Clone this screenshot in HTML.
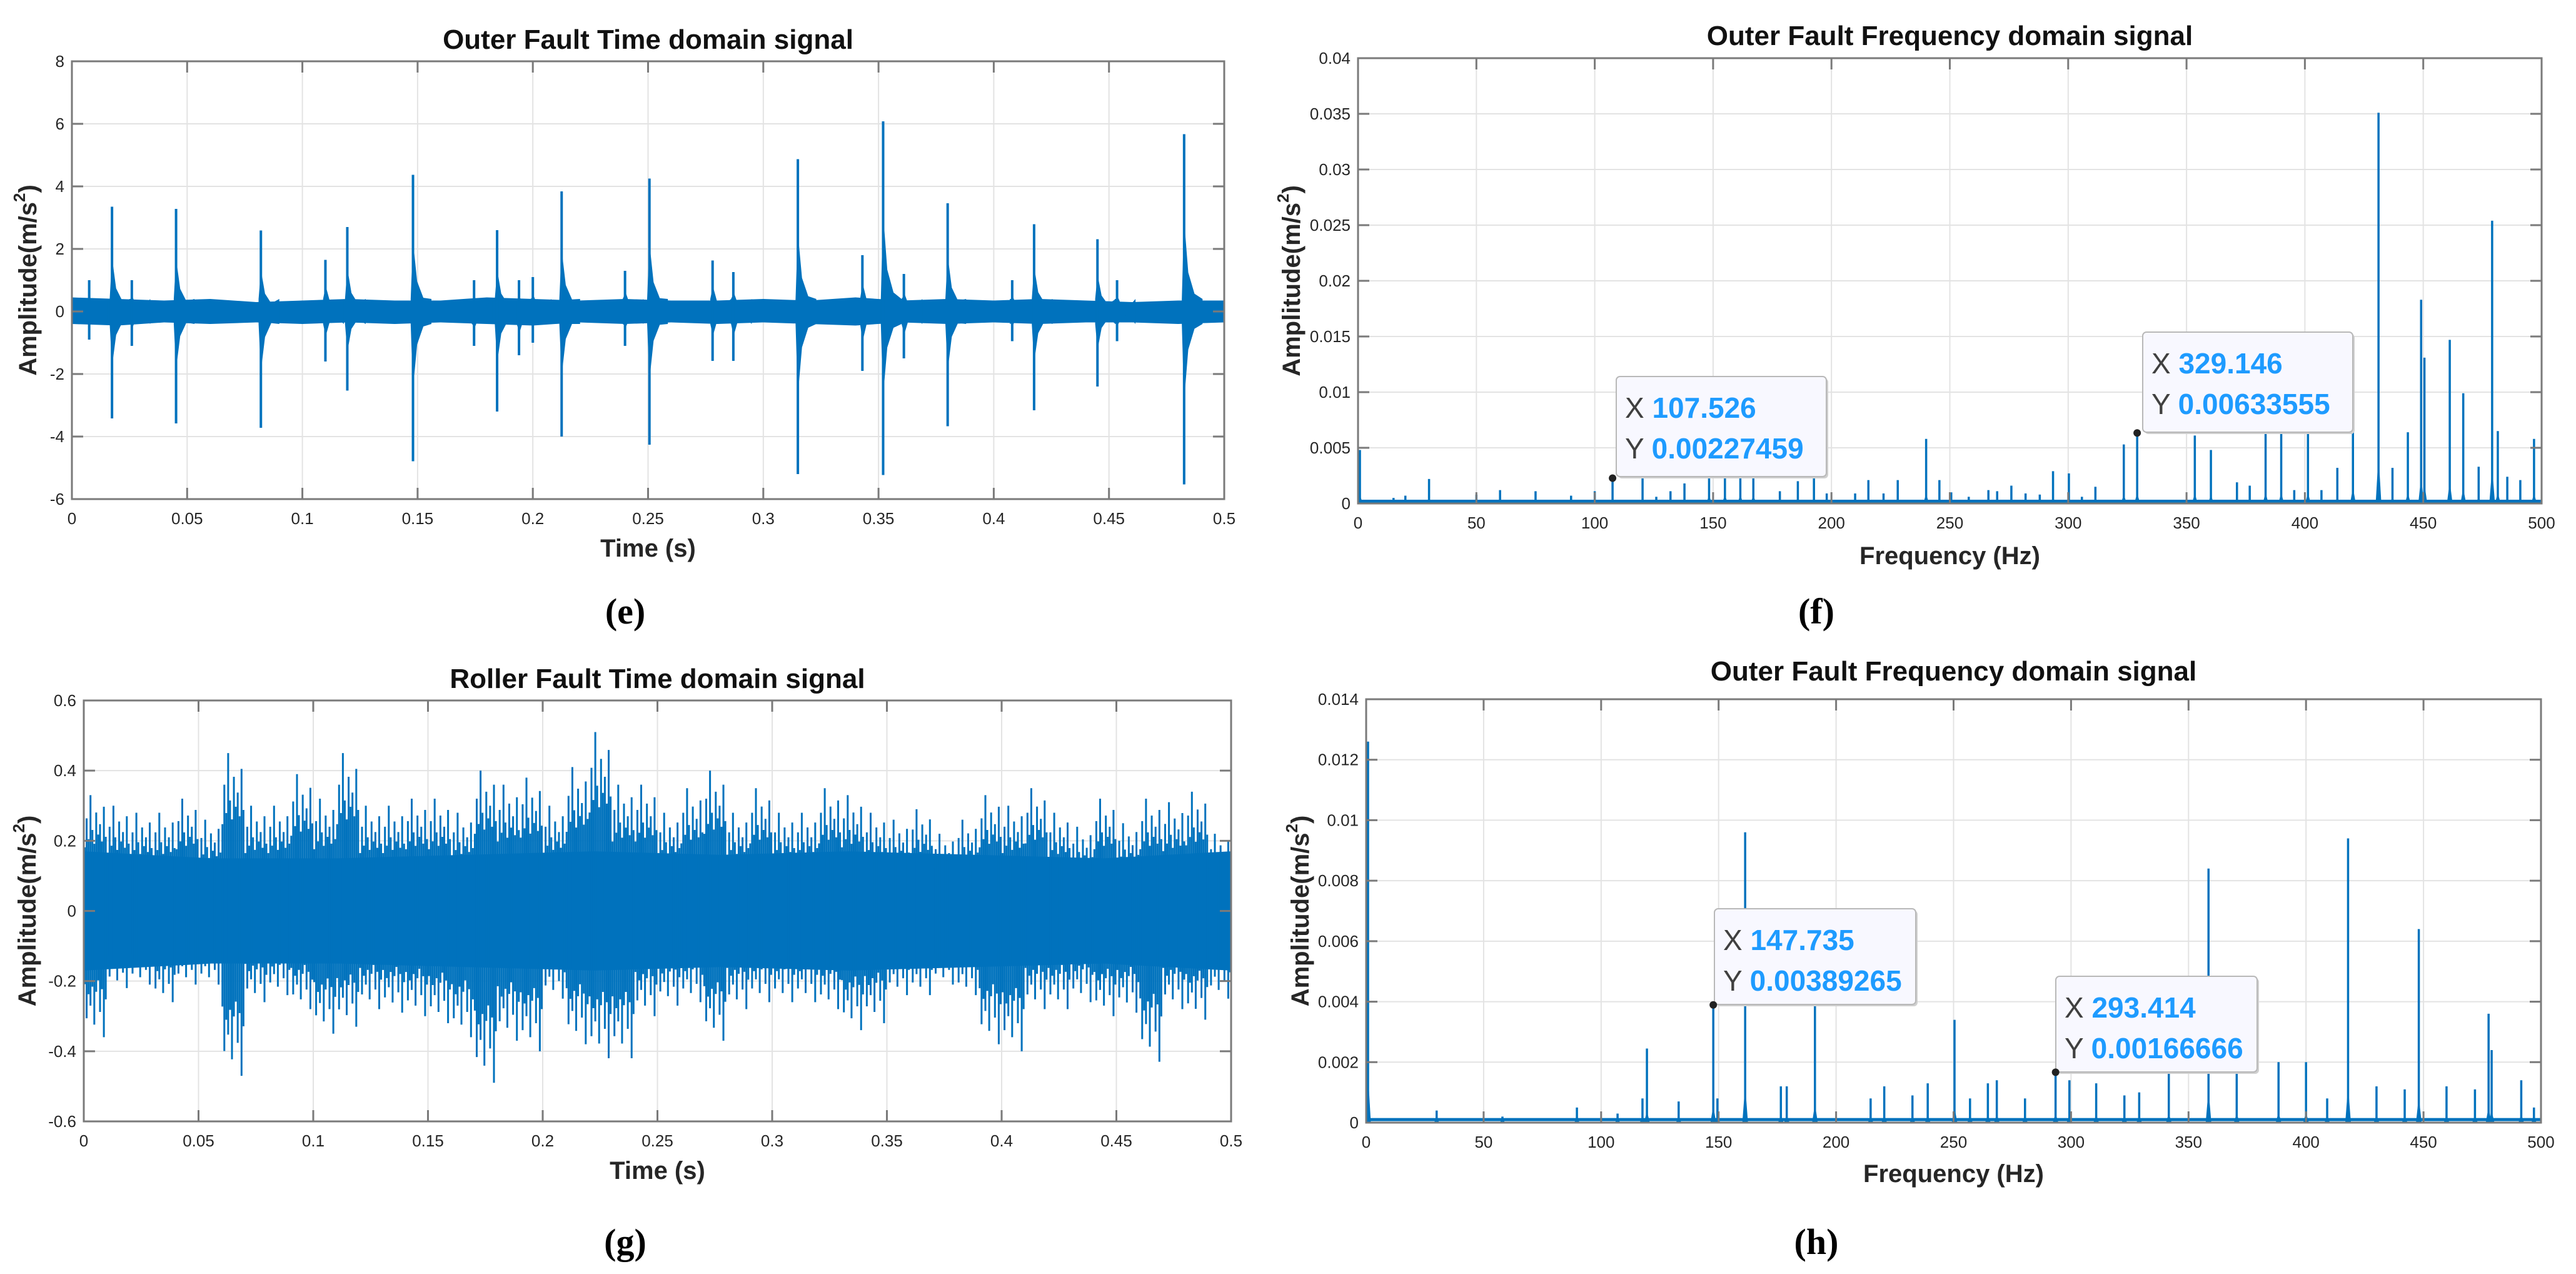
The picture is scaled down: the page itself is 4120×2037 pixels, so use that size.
<!DOCTYPE html>
<html><head><meta charset="utf-8"><title>Fault signals</title>
<style>
html,body{margin:0;padding:0;background:#fff;}
svg{display:block;font-family:"Liberation Sans",sans-serif;}
</style></head>
<body>
<svg id="fig" width="4120" height="2037" viewBox="0 0 4120 2037" xmlns="http://www.w3.org/2000/svg">
<rect x="0" y="0" width="4120" height="2037" fill="#fff"/>
</svg>
<script>
// ---------- Panel (e): outer fault time signal ----------
const eImpulseTimes = [0.0174,0.0452,0.082,0.1195,0.148,0.1845,0.2125,0.2506,0.278,0.315,0.352,0.38,0.4175,0.445,0.4826];
const eImpulseMax   = [3.35,3.28,2.59,2.7,4.37,2.6,3.84,4.25,1.63,4.87,6.08,3.46,2.79,2.31,5.67];
const eImpulseMin   = [-3.42,-3.58,-3.72,-2.53,-4.79,-3.2,-4.0,-4.26,-1.58,-5.2,-5.23,-3.67,-3.16,-2.4,-5.53];
const eBumpTimes = [0.0075,0.026,0.11,0.1745,0.194,0.2,0.24,0.287,0.343,0.361,0.408,0.4535];
const eBumpMax   = [1.0,1.0,1.65,1.0,1.0,1.1,1.3,1.26,1.8,1.2,1.0,1.0];
const eBumpMin   = [-0.9,-1.1,-1.6,-1.1,-1.4,-1.0,-1.1,-1.58,-1.9,-1.5,-0.95,-0.95];
const eNoiseHi = [0.45,0.4,0.35,0.4,0.3,0.35,0.4,0.35,0.35,0.45,0.4,0.35,0.4,0.35,0.35,0.4,0.35,0.45,0.35,0.4,0.35,0.4,0.35,0.3,0.35,0.35];
const eNoiseLo = [-0.4,-0.45,-0.35,-0.4,-0.35,-0.4,-0.35,-0.4,-0.35,-0.4,-0.45,-0.35,-0.4,-0.35,-0.4,-0.35,-0.4,-0.45,-0.35,-0.4,-0.35,-0.4,-0.35,-0.35,-0.4,-0.35];

// ---------- Panel (f): outer fault spectrum ----------
const fFreqs = [0.8,15,20,30,50,60,75,90,100,107.526,120.2,126,132,137.9,148.3,155,161.5,167,178.2,185.8,192.6,198,210,215.6,222,228,240,245.6,250.6,258,266.3,270,276,282,288,293.6,300.3,305.8,311.5,323.5,329.146,353.5,360.3,371.3,376.7,383.4,390,395.5,401.3,407,413.7,420.3,431.1,437,443.5,449.1,450.5,461.2,466.9,473.4,479.1,481.5,485.5,491,496.8];
const fAmps  = [0.0048,0.0005,0.0007,0.0022,0.0008,0.0012,0.0011,0.0007,0.0011,0.00227459,0.0024,0.0006,0.0011,0.0018,0.0045,0.005,0.0048,0.0046,0.0011,0.002,0.0024,0.0009,0.0009,0.0021,0.0009,0.0021,0.0058,0.0021,0.001,0.0006,0.0012,0.0011,0.0016,0.0009,0.0008,0.0029,0.0027,0.0006,0.0015,0.0053,0.00633555,0.0061,0.0048,0.0019,0.0016,0.0065,0.0064,0.0012,0.0065,0.0012,0.0032,0.0104,0.0351,0.0032,0.0064,0.0183,0.0131,0.0147,0.0099,0.0033,0.0254,0.0065,0.0024,0.0021,0.0058];

// ---------- Panel (g): roller fault time signal (per 0.01 s bin envelopes) ----------
const gUpper = [0.33,0.30,0.28,0.28,0.32,0.26,0.45,0.30,0.30,0.39,0.32,0.45,0.30,0.30,0.32,0.32,0.28,0.40,0.36,0.38,0.30,0.41,0.51,0.36,0.36,0.28,0.35,0.40,0.28,0.35,0.28,0.28,0.35,0.33,0.28,0.26,0.29,0.22,0.26,0.33,0.30,0.35,0.28,0.24,0.32,0.25,0.32,0.31,0.34,0.22];
const gLower = [-0.36,-0.22,-0.21,-0.26,-0.21,-0.21,-0.47,-0.26,-0.24,-0.28,-0.35,-0.33,-0.28,-0.29,-0.30,-0.32,-0.36,-0.49,-0.37,-0.40,-0.25,-0.38,-0.42,-0.42,-0.30,-0.27,-0.26,-0.37,-0.28,-0.26,-0.26,-0.26,-0.28,-0.34,-0.32,-0.24,-0.24,-0.21,-0.24,-0.38,-0.40,-0.28,-0.28,-0.26,-0.30,-0.29,-0.43,-0.28,-0.31,-0.25];
const gCore  = [0.17,0.15,0.15,0.16,0.17,0.16,0.17,0.16,0.15,0.17];

// ---------- Panel (h): spectrum ----------
const hFreqs = [0.8,30,58,89.7,107,117.6,119.5,133,147.735,149.5,161.3,176.5,179,191,214.7,220.5,232.5,239,250.4,257,264.6,268.4,280.4,293.414,299.3,310.7,322.7,329,341.6,358.5,370.5,388.3,400,409,417.9,430,442,448,459.8,471.9,477.7,479,491.6,497];
const hAmps  = [0.0126,0.0004,0.0002,0.0005,0.0003,0.0008,0.00245,0.0007,0.00389265,0.0008,0.0096,0.0012,0.0012,0.0044,0.0008,0.0012,0.0009,0.0013,0.0034,0.0008,0.0013,0.0014,0.0008,0.00166666,0.0014,0.0013,0.0009,0.001,0.0017,0.0084,0.0017,0.002,0.002,0.0008,0.0094,0.0012,0.0011,0.0064,0.0012,0.0011,0.0036,0.0024,0.0014,0.0005];

// tick label arrays
const eXTicks = [0,0.05,0.1,0.15,0.2,0.25,0.3,0.35,0.4,0.45,0.5];
const eYTicks = [-6,-4,-2,0,2,4,6,8];
const fXTicks = [0,50,100,150,200,250,300,350,400,450,500];
const fYTicks = [0,0.005,0.01,0.015,0.02,0.025,0.03,0.035,0.04];
const gYTicks = [-0.6,-0.4,-0.2,0,0.2,0.4,0.6];
const hYTicks = [0,0.002,0.004,0.006,0.008,0.01,0.012,0.014];

const NS = 'http://www.w3.org/2000/svg';
const svg = document.getElementById('fig');
const BLUE = '#0072BD';
function el(tag, attrs, parent){
  const e = document.createElementNS(NS, tag);
  for (const k in attrs) e.setAttribute(k, attrs[k]);
  (parent||svg).appendChild(e);
  return e;
}
function fmt(v){ return String(Number(v.toFixed(4))); }

function makeAxes(o){
  const g = el('g', {});
  
  
  const sx = v => o.l + (v - o.xmin) / (o.xmax - o.xmin) * (o.r - o.l);
  const sy = v => o.b - (v - o.ymin) / (o.ymax - o.ymin) * (o.b - o.t);
  const grid = el('g', {stroke:'#e3e3e3','stroke-width':2}, g);
  
  
  o.xt.forEach(v => el('line', {x1:sx(v),x2:sx(v),y1:o.t,y2:o.b}, grid));
  o.yt.forEach(v => el('line', {x1:o.l,x2:o.r,y1:sy(v),y2:sy(v)}, grid));
  const cid = 'clip-' + o.name;
  const cp = el('clipPath', {id:cid}, g);
  el('rect', {x:o.l,y:o.t,width:o.r-o.l,height:o.b-o.t}, cp);
  const plot = el('g', {'clip-path':'url(#'+cid+')'}, g);
  
  
  const front = el('g', {}, g);
  return {g, plot, front, sx, sy, o};
}
function finishAxes(A){
  const o = A.o, g = A.front, sx = A.sx, sy = A.sy;
  const box = el('rect', {x:o.l,y:o.t,width:o.r-o.l,height:o.b-o.t,fill:'none',stroke:'#7a7a7a','stroke-width':3}, g);
  
  
  const tk = el('g', {stroke:'#7a7a7a','stroke-width':3}, g);
  o.xt.forEach(v => { el('line',{x1:sx(v),x2:sx(v),y1:o.b,y2:o.b-18},tk); el('line',{x1:sx(v),x2:sx(v),y1:o.t,y2:o.t+18},tk); });
  o.yt.forEach(v => { el('line',{x1:o.l,x2:o.l+18,y1:sy(v),y2:sy(v)},tk); el('line',{x1:o.r,x2:o.r-18,y1:sy(v),y2:sy(v)},tk); });
  const xl = el('g', {'font-size':26,fill:'#262626','text-anchor':'middle'}, g);
  
  
  o.xt.forEach(v => { const t = el('text',{x:sx(v),y:o.b+40},xl); t.textContent = fmt(v); });
  const yl = el('g', {'font-size':26,fill:'#262626','text-anchor':'end'}, g);
  
  
  o.yt.forEach(v => { const t = el('text',{x:o.l-12,y:sy(v)+9},yl); t.textContent = fmt(v); });
  const ti = el('text', {x:(o.l+o.r)/2, y:o.titleY, 'font-size':44,'font-weight':'bold','text-anchor':'middle',fill:'#111'}, g);
  
  
  ti.textContent = o.title;
  const xa = el('text', {x:(o.l+o.r)/2, y:o.xlabY, 'font-size':40,'font-weight':'bold','text-anchor':'middle',fill:'#262626'}, g);
  
  
  xa.textContent = o.xlab;
  const cy = (o.t+o.b)/2;
  const ya = el('text', {x:o.ylabX, y:cy, 'font-size':40,'font-weight':'bold','text-anchor':'middle','dominant-baseline':'central',fill:'#262626',transform:'rotate(-90 '+o.ylabX+' '+cy+')'}, g);
  
  
  ya.innerHTML = 'Amplitude(m/s<tspan dy="-14" font-size="26">2</tspan><tspan dy="14">)</tspan>';
  const cap = el('text', {x:o.capX, y:o.capY, 'font-size':58,'font-weight':'bold','text-anchor':'middle',fill:'#000','font-family':'"Liberation Serif",serif'}, g);
  
  
  cap.textContent = o.cap;
}
function datatip(A, xv, yv, bx, by, bw, bh, name){
  const g = el('g', {}, A.front);
  
  
  el('rect', {x:bx+3,y:by+3,width:bw,height:bh,rx:6,fill:'#d0d0d0'}, g);
  el('rect', {x:bx,y:by,width:bw,height:bh,rx:6,fill:'#f8f8ff',stroke:'#b8b8b8','stroke-width':2}, g);
  const t1 = el('text', {x:bx+14,y:by+66,'font-size':46,fill:'#404040'}, g);
  t1.innerHTML = 'X <tspan fill="#1e9bff" font-weight="bold">' + xv + '</tspan>';
  const t2 = el('text', {x:bx+14,y:by+131,'font-size':46,fill:'#404040'}, g);
  t2.innerHTML = 'Y <tspan fill="#1e9bff" font-weight="bold">' + yv + '</tspan>';
  const m = el('circle', {cx:A.sx(Number(xv)), cy:A.sy(Number(yv)), r:6, fill:'#222'}, g);
  
  
}
function spectrum(A, freqs, amps, floorAmp){
  const sx = A.sx, sy = A.sy;
  el('line', {x1:A.o.l, x2:A.o.r, y1:sy(floorAmp), y2:sy(floorAmp), stroke:BLUE, 'stroke-width':5}, A.plot);
  freqs.forEach((f,i) => {
    const a = amps[i];
    const sk = el('polygon', {points:sx(f-1.2)+','+sy(0)+' '+sx(f)+','+sy(a*0.12+floorAmp)+' '+sx(f+1.2)+','+sy(0), fill:BLUE}, A.plot);
    
    
    const ln = el('line', {x1:sx(f), x2:sx(f), y1:sy(0), y2:sy(a), stroke:BLUE, 'stroke-width':3.5}, A.plot);
    
    
  });
}

// ===== Panel e =====
const E = makeAxes({name:'panel-e',l:115,t:98,r:1958,b:798,xmin:0,xmax:0.5,ymin:-6,ymax:8,xt:eXTicks,yt:eYTicks,
  title:'Outer Fault Time domain signal',titleY:78,xlab:'Time (s)',xlabY:890,ylabX:45,cap:'(e)',capX:1000,capY:997});
{
  const n = eNoiseHi.length, dt = 0.5/(n-1);
  const up = eNoiseHi.map((v,i)=>E.sx(i*dt)+','+E.sy(v));
  const lo = eNoiseLo.map((v,i)=>E.sx(i*dt)+','+E.sy(v)).reverse();
  const band = el('polygon', {points:up.concat(lo).join(' '), fill:BLUE}, E.plot);
  
  
  const drawBurst = (t, mx, mn, nm) => {
    const pts = [[t-0.001,0.4],[t-0.0003,mx*0.4],[t,mx],[t+0.0004,mx*0.45],[t+0.0018,mx*0.22],[t+0.0045,mx*0.1],[t+0.008,0.4],
                 [t+0.008,-0.4],[t+0.0045,mn*0.1],[t+0.0018,mn*0.22],[t+0.0004,mn*0.45],[t,mn],[t-0.0003,mn*0.4],[t-0.001,-0.4]];
    const p = el('polygon', {points:pts.map(q=>E.sx(q[0])+','+E.sy(q[1])).join(' '), fill:BLUE}, E.plot);
    
    
    el('line', {x1:E.sx(t),x2:E.sx(t),y1:E.sy(mx),y2:E.sy(mn),stroke:BLUE,'stroke-width':4}, E.plot);
  };
  eImpulseTimes.forEach((t,i)=>drawBurst(t, eImpulseMax[i], eImpulseMin[i], 'impulse'));
  eBumpTimes.forEach((t,i)=>drawBurst(t, eBumpMax[i], eBumpMin[i], 'minor-impulse'));
}
finishAxes(E);

// ===== Panel f =====
const F = makeAxes({name:'panel-f',l:2172,t:93,r:4065,b:805,xmin:0,xmax:500,ymin:0,ymax:0.04,xt:fXTicks,yt:fYTicks,
  title:'Outer Fault Frequency domain signal',titleY:72,xlab:'Frequency (Hz)',xlabY:902,ylabX:2066,cap:'(f)',capX:2905,capY:997});
spectrum(F, fFreqs, fAmps, 0.0002);
finishAxes(F);
datatip(F, '107.526', '0.00227459', 2585, 602, 336, 160, 'datatip-f-1');
datatip(F, '329.146', '0.00633555', 3427, 531, 336, 160, 'datatip-f-2');

// ===== Panel g =====
const G = makeAxes({name:'panel-g',l:134,t:1120,r:1969,b:1793,xmin:0,xmax:0.5,ymin:-0.6,ymax:0.6,xt:eXTicks,yt:gYTicks,
  title:'Roller Fault Time domain signal',titleY:1100,xlab:'Time (s)',xlabY:1885,ylabX:44,cap:'(g)',capX:1000,capY:2005});
{
  const nc = gCore.length, dc = 0.5/(nc-1);
  const up = gCore.map((v,i)=>G.sx(i*dc)+','+G.sy(v));
  const lo = gCore.map((v,i)=>G.sx(i*dc)+','+G.sy(-v)).reverse();
  const core = el('polygon', {points:up.concat(lo).join(' '), fill:BLUE}, G.plot);
  
  
  const shape = [0.55,0.8,0.62,1.0,0.7,0.58,0.85,0.66,0.75,0.6,0.9,0.64];
  const bw = 0.01;
  gUpper.forEach((u,i)=>{
    const l = gLower[i];
    shape.forEach((s,k)=>{
      const t = i*bw + (k+0.5)*bw/shape.length;
      const s2 = shape[(k+5)%shape.length];
      const ln = el('line', {x1:G.sx(t),x2:G.sx(t),y1:G.sy(u*s),y2:G.sy(l*s2),stroke:BLUE,'stroke-width':3}, G.plot);
      
      
    });
  });
}
finishAxes(G);

// ===== Panel h =====
const H = makeAxes({name:'panel-h',l:2185,t:1118,r:4064,b:1795,xmin:0,xmax:500,ymin:0,ymax:0.014,xt:fXTicks,yt:hYTicks,
  title:'Outer Fault Frequency domain signal',titleY:1088,xlab:'Frequency (Hz)',xlabY:1890,ylabX:2080,cap:'(h)',capX:2905,capY:2005});
spectrum(H, hFreqs, hAmps, 0.0001);
finishAxes(H);
datatip(H, '147.735', '0.00389265', 2742, 1453, 322, 153, 'datatip-h-1');
datatip(H, '293.414', '0.00166666', 3288, 1561, 322, 153, 'datatip-h-2');
</script>
</body></html>
